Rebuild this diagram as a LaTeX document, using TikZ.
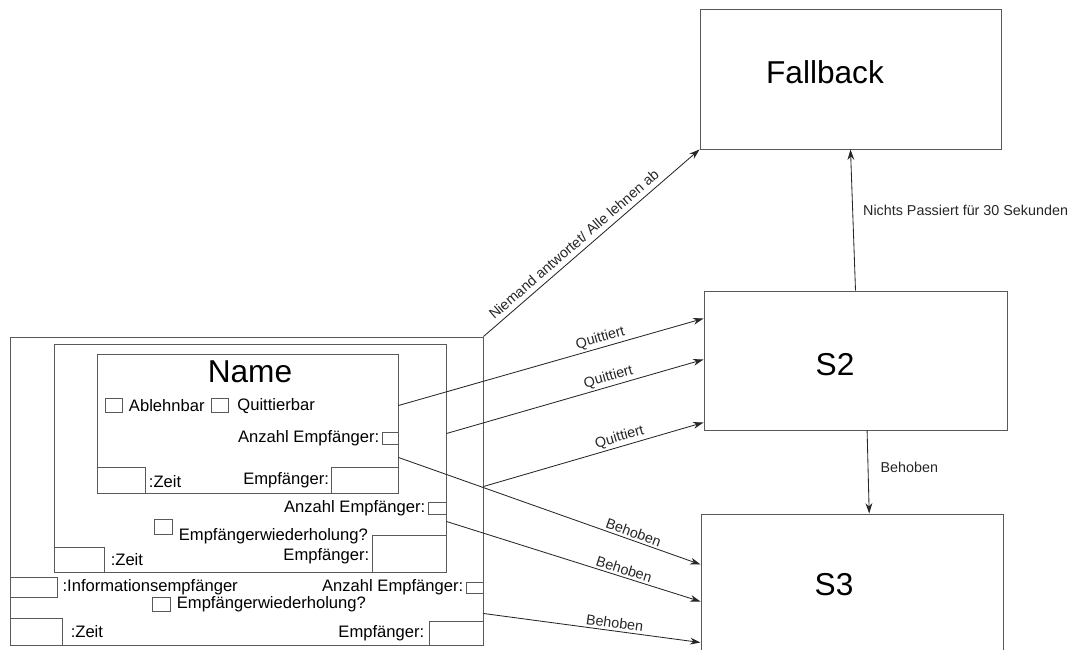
\documentclass[tikz,border=0pt]{standalone}
\usepackage{fontspec}
\setmainfont{Liberation Sans}
\usetikzlibrary{arrows.meta,positioning}

\begin{document}
\begin{tikzpicture}[
  box/.style={draw=black!65, line width=0.7pt, inner sep=0pt},
  chk/.style={box, minimum width=0.43cm, minimum height=0.36cm},
  txt/.style={inner sep=0pt, font=\fontsize{11.8}{13}\selectfont},
  big/.style={font=\fontsize{22.5}{26}\selectfont},
  lbl/.style={inner sep=1.5pt, font=\fontsize{10.2}{12}\selectfont},
  arr/.style={-{Stealth[length=2.6mm,width=1.7mm]}, line width=0.6pt, black!85}
]
\useasboundingbox (0,0) rectangle (26.75,16.25);
\clip (0,0) rectangle (26.75,16.25);
% Nested message boxes
\node[box, minimum width=11.825cm, minimum height=7.7cm] (outer) at (6.1625,3.975) {};
\node[box, minimum width=9.8cm, minimum height=5.7cm] (mid) at (6.25,4.8) {};
\node[box, minimum width=7.525cm, minimum height=3.475cm] (inner) at (6.1875,5.6625) {};
% Inner box
\node[big] (name) at (6.25,6.95) {Name};
\node[chk] (cb1) at (2.84,6.11) {};
\node[txt, right=0.15cm of cb1] (ablehnbar) {Ablehnbar};
\node[chk] (cb2) at (5.5,6.11) {};
\node[txt, right=0.2cm of cb2] (quittierbar) {Quittierbar};
\node[box, minimum width=0.4cm, minimum height=0.3cm] (anz1) at (9.75,5.3) {};
\node[txt, left=0.05cm of anz1] (anzt1) {Anzahl Empfänger:};
\node[box, minimum width=1.2cm, minimum height=0.65cm] (zeit1) at (3.025,4.25) {};
\node[txt, right=0.08cm of zeit1, yshift=-0.05cm] (zeitt1) {:Zeit};
\node[box, minimum width=1.675cm, minimum height=0.65cm] (emp1) at (9.1125,4.25) {};
\node[txt, left=0.03cm of emp1] (empt1) {Empfänger:};
% Middle box
\node[box, minimum width=0.45cm, minimum height=0.3cm] (anz2) at (10.925,3.55) {};
\node[txt, left=0.05cm of anz2] (anzt2) {Anzahl Empfänger:};
\node[chk] (cbw1) at (4.0875,3.075) {};
\node[txt, right=0.15cm of cbw1, yshift=-0.22cm] (wdh1) {Empfängerwiederholung?};
\node[box, minimum width=1.25cm, minimum height=0.625cm] (zeit2) at (1.975,2.2625) {};
\node[txt, right=0.15cm of zeit2] (zeitt2) {:Zeit};
\node[box, minimum width=1.85cm, minimum height=0.925cm] (emp2) at (10.225,2.4125) {};
\node[txt, left=0.05cm of emp2, yshift=-0.08cm] (empt2) {Empfänger:};
% Outer box
\node[box, minimum width=1.175cm, minimum height=0.5cm] (info) at (0.8375,1.575) {};
\node[txt, right=0.12cm of info] (infot) {:Informationsempfänger};
\node[box, minimum width=0.425cm, minimum height=0.275cm] (anz3) at (11.8625,1.5625) {};
\node[txt, left=0.05cm of anz3] (anzt3) {Anzahl Empfänger:};
\node[chk] (cbw2) at (4.0375,1.1375) {};
\node[txt, right=0.15cm of cbw2] (wdh2) {Empfängerwiederholung?};
\node[box, minimum width=1.3cm, minimum height=0.675cm] (zeit3) at (0.9,0.4625) {};
\node[txt, right=0.2cm of zeit3] (zeitt3) {:Zeit};
\node[box, minimum width=1.35cm, minimum height=0.6cm] (emp3) at (11.4,0.425) {};
\node[txt, left=0.1cm of emp3] (empt3) {Empfänger:};
% States
\node[box, minimum width=7.525cm, minimum height=3.5cm] (fallback) at (21.2625,14.275) {};
\node[big] (fbname) at (20.625,14.45) {Fallback};
\node[box, minimum width=7.575cm, minimum height=3.475cm] (S2) at (21.3875,7.2375) {};
\node[big] (s2name) at (20.875,7.125) {S2};
\node[box, minimum width=7.55cm, minimum height=4.4cm] (S3) at (21.3,1.2) {};
\node[big] (s3name) at (20.85,1.625) {S3};
% Transitions
\draw[arr] (outer.north east) -- node[lbl, pos=0.45, above=2pt, sloped] (niemand) {Niemand antwortet/ Alle lehnen ab} (fallback.south west);
\draw[arr] (S2.north) -- node[lbl, pos=0.57, right=0.2cm] (nichts) {Nichts Passiert für 30 Sekunden} (fallback.south);
\draw[arr] ([xshift=0.29cm]S2.south) -- node[lbl, pos=0.45, right=0.25cm] (beh0) {Behoben} ([xshift=0.43cm]S3.north);
\draw[arr] ([yshift=-1.3cm]inner.north east) -- node[lbl, pos=0.67, above, sloped] (q1) {Quittiert} ([yshift=-0.7cm]S2.north west);
\draw[arr] ([yshift=-2.25cm]mid.north east) -- node[lbl, pos=0.64, above, sloped] (q2) {Quittiert} ([yshift=-1.725cm]S2.north west);
\draw[arr] ([yshift=-3.75cm]outer.north east) -- node[lbl, pos=0.63, above, sloped] (q3) {Quittiert} ([yshift=0.2cm]S2.south west);
\draw[arr] ([yshift=0.9cm]inner.south east) -- node[lbl, pos=0.77, above, sloped] (b1) {Behoben} ([yshift=-1.275cm]S3.north west);
\draw[arr] ([yshift=1.275cm]mid.south east) -- node[lbl, pos=0.69, above, sloped] (b2) {Behoben} ([yshift=-2.2cm]S3.north west);
\draw[arr] ([yshift=0.8cm]outer.south east) -- node[lbl, pos=0.6, above, sloped] (b3) {Behoben} ([yshift=-3.225cm]S3.north west);
\end{tikzpicture}
\end{document}
